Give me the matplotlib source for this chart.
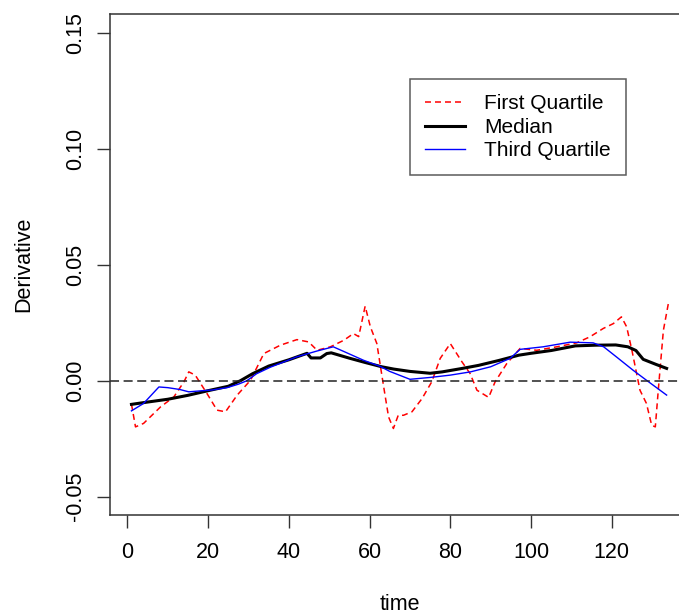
import matplotlib
matplotlib.use("Agg")
import matplotlib.pyplot as plt
from matplotlib.ticker import FormatStrFormatter

plt.rcParams["font.family"] = ["Liberation Sans", "DejaVu Sans"]
plt.rcParams["lines.scale_dashes"] = False

# first quartile of the derivative over time
q1_time = [1, 2, 4, 8.2, 11.5, 14, 15.2, 16.8, 19.7, 22.2, 24.3, 27.2, 30.5,
           33.8, 37.9, 42, 44.9, 47, 50.3, 53.6, 56, 57.3, 58.9, 60.2, 61.8,
           63.5, 64.7, 65.9, 67.1, 68.4, 70.5, 73, 75.4, 77.5, 80, 82.9, 84.9,
           86.6, 89.5, 91.1, 94, 97.3, 101.4, 106.4, 111.3, 114.6, 117.9,
           120.4, 122.4, 123.7, 125, 127, 128.6, 129.9, 130.8, 131.6, 132.8,
           134.1]
q1_vals = [-0.0101, -0.0199, -0.0184, -0.0113, -0.0070, -0.0005, 0.0038,
           0.0024, -0.0055, -0.0127, -0.0134, -0.0062, 0.0002, 0.0117, 0.0153,
           0.0177, 0.0167, 0.0131, 0.0146, 0.0174, 0.0203, 0.0190, 0.0321,
           0.0232, 0.0160, -0.0027, -0.0156, -0.0206, -0.0149, -0.0149,
           -0.0134, -0.0077, -0.0005, 0.0096, 0.0160, 0.0081, 0.0031, -0.0041,
           -0.0072, -0.0005, 0.0074, 0.0139, 0.0131, 0.0146, 0.0163, 0.0189,
           0.0225, 0.0246, 0.0275, 0.0232, 0.0131, -0.0041, -0.0098, -0.0192,
           -0.0199, -0.0027, 0.0217, 0.0339]

# median
med_time = [1, 5, 10, 15, 20, 25, 28, 31, 35, 40, 44.5, 45.5, 47.8, 49.4,
            50.5, 55, 59, 63, 66, 70, 75, 78, 83, 87, 92, 97, 100, 105, 111,
            116, 121, 124, 126, 127.8, 131, 133.6]
med_vals = [-0.0102, -0.0092, -0.0080, -0.0063, -0.0043, -0.0024, 0.0000,
            0.0030, 0.0063, 0.0090, 0.0118, 0.0098, 0.0098, 0.0117, 0.0120,
            0.0097, 0.0078, 0.0060, 0.0050, 0.0040, 0.0032, 0.0038, 0.0053,
            0.0066, 0.0087, 0.0110, 0.0118, 0.0130, 0.0150, 0.0153, 0.0154,
            0.0146, 0.0130, 0.0092, 0.0070, 0.0053]

# third quartile
q3_time = [1, 4, 7.8, 10, 13, 15.2, 18, 21, 24.7, 27.5, 29.6, 32, 35.4, 42,
           47, 51, 53.6, 58.5, 62.6, 65, 70, 75, 80, 85, 90, 94.8, 97.3, 103,
           109.7, 115.4, 118, 121.2, 125.3, 128.6, 133.6]
q3_vals = [-0.0130, -0.0098, -0.0027, -0.0030, -0.0038, -0.0048, -0.0044,
           -0.0040, -0.0030, -0.0015, 0.0000, 0.0030, 0.0058, 0.0103, 0.0128,
           0.0146, 0.0126, 0.0088, 0.0062, 0.0040, 0.0006, 0.0014, 0.0024,
           0.0038, 0.0060, 0.0096, 0.0135, 0.0146, 0.0166, 0.0163, 0.0146,
           0.0102, 0.0045, 0.0002, -0.0062]

x_ticks = [0, 20, 40, 60, 80, 100, 120]
y_ticks = [-0.05, 0.00, 0.05, 0.10, 0.15]

W, H = 679, 614
fig = plt.figure(figsize=(W / 100, H / 100), dpi=100)
# plot region in pixels: left 110, right 690 (runs past the edge), top 14, bottom 515
ax = fig.add_axes([110 / W, (H - 515.3) / H, (689.7 - 110) / W, (515.3 - 14) / H])

ax.plot(q1_time, q1_vals, color="red", lw=1.1, linestyle=(0, (4.3, 2.9)),
        label="First Quartile")
ax.plot(med_time, med_vals, color="black", lw=2.2, label="Median")
ax.plot(q3_time, q3_vals, color="blue", lw=1.0, label="Third Quartile")
ax.axhline(0, color="#222222", lw=1.1, linestyle=(0, (6.5, 3.3)))

ax.set_xlim(-4.32, 139.32)
ax.set_ylim(-0.058, 0.158)
ax.set_xticks(x_ticks)
ax.set_yticks(y_ticks)
ax.yaxis.set_major_formatter(FormatStrFormatter("%.2f"))
ax.tick_params(direction="out", length=9.4, width=1.0, labelsize=15.5,
               color="#333333")
ax.tick_params(axis="x", pad=10)
ax.tick_params(axis="y", pad=8)
for lab in ax.get_yticklabels():
    lab.set_rotation(90)
    lab.set_va("center")
for sp in ax.spines.values():
    sp.set_linewidth(1.1)
    sp.set_color("#333333")

ax.set_xlabel("time", fontsize=15.5)
ax.set_ylabel("Derivative", fontsize=15.5)
ax.xaxis.set_label_coords(0.5, -0.157)
ax.yaxis.set_label_coords(-0.131, 0.5)

leg = ax.legend(loc="upper left",
                bbox_to_anchor=(410 / W, 1 - 79.3 / H),
                bbox_transform=fig.transFigure,
                fontsize=15, frameon=True, fancybox=False,
                handlelength=1.9, handletextpad=0.95, borderpad=0.72,
                labelspacing=0.22, borderaxespad=0)
leg.get_frame().set_edgecolor("#333333")
leg.get_frame().set_linewidth(1.1)

fig.savefig("out.png", dpi=100)
